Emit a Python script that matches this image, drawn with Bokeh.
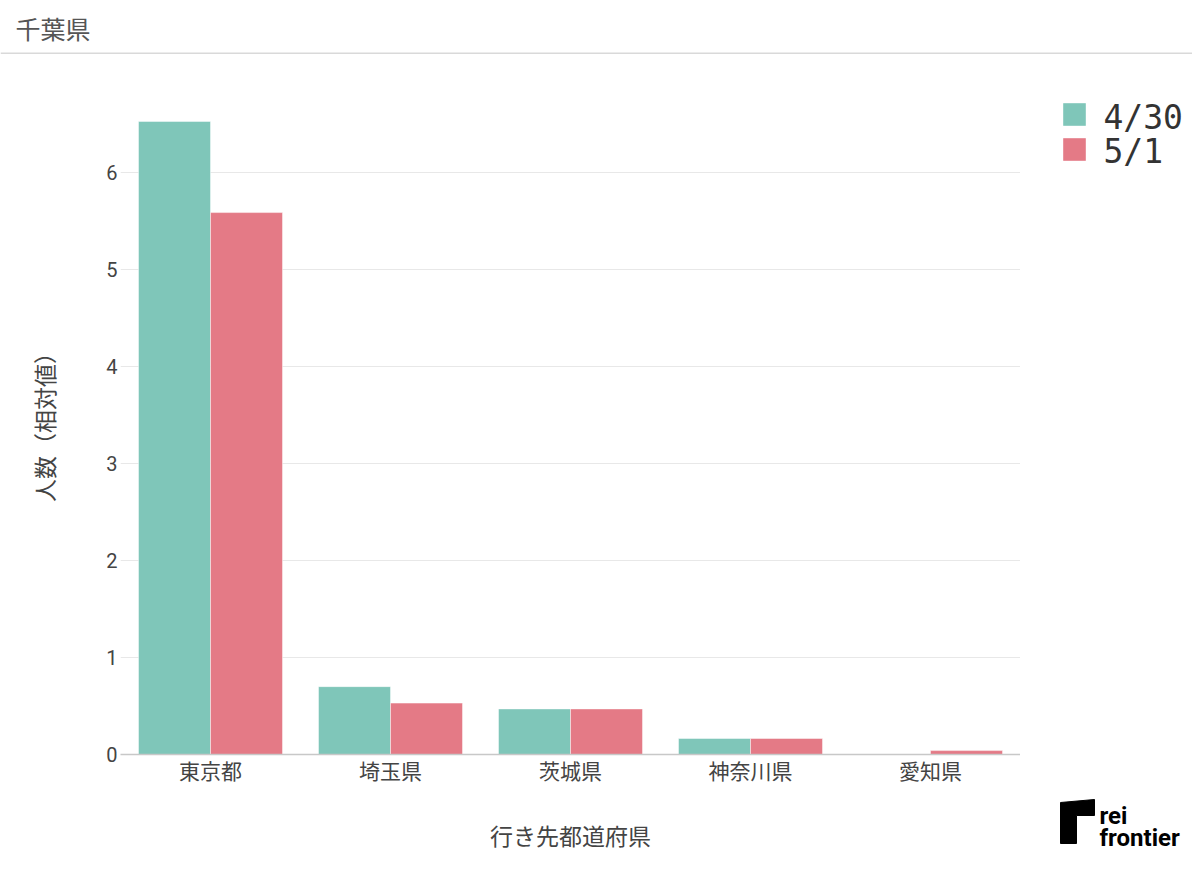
from bokeh.plotting import figure
from bokeh.models import ColumnDataSource, FactorRange, Range1d, FixedTicker
from bokeh.layouts import column, row
from bokeh.transform import dodge
from bokeh.core.properties import value
from bokeh.embed import file_html
from bokeh.resources import INLINE

# ---- data ----
title_text = "千葉県"
categories = ["東京都", "埼玉県", "茨城県", "神奈川県", "愛知県"]
series_names = ["4/30", "5/1"]
values_0430 = [6.53, 0.70, 0.47, 0.165, 0.0]
values_0501 = [5.59, 0.53, 0.47, 0.165, 0.04]
y_ticks = [0, 1, 2, 3, 4, 5, 6]
x_label = "行き先都道府県"
y_label = "人数（相対値）"
colors = ["#7fc6b9", "#e47a86"]

JP = "Noto Sans CJK JP"

# ---- title strip ----
top = figure(width=1192, height=54, x_range=Range1d(0, 1192), y_range=Range1d(54, 0),
             min_border=0, toolbar_location=None, output_backend="svg")
top.axis.visible = False
top.grid.visible = False
top.outline_line_color = None
top.text(x=[15], y=[27], text=[title_text], text_font=value(JP), text_font_size="25px",
         text_color="#555555", text_baseline="middle", text_align="left")
top.line(x=[0, 1192], y=[53, 53], line_color="#d9d9d9", line_width=2)

# ---- main chart ----
src = ColumnDataSource(dict(cat=categories, a=values_0430, b=values_0501))
p = figure(width=1020, height=815, x_range=FactorRange(*categories), y_range=Range1d(0, 6.87),
           min_border_left=120, min_border_right=0, min_border_top=34, min_border_bottom=115,
           toolbar_location=None, output_backend="svg")
p.outline_line_color = None
p.vbar(x=dodge("cat", -0.2, range=p.x_range), top="a", width=0.4, source=src,
       fill_color=colors[0], line_color="white", line_alpha=0.45, line_width=1)
p.vbar(x=dodge("cat", 0.2, range=p.x_range), top="b", width=0.4, source=src,
       fill_color=colors[1], line_color="white", line_alpha=0.45, line_width=1)

p.xgrid.grid_line_color = None
p.ygrid.grid_line_color = "#e8e8e8"
p.ygrid.grid_line_width = 1
p.yaxis.ticker = FixedTicker(ticks=y_ticks)
p.ygrid.ticker = FixedTicker(ticks=y_ticks)

p.yaxis.axis_line_color = None
p.yaxis.major_tick_line_color = None
p.yaxis.major_tick_out = 0
p.yaxis.major_tick_in = 0
p.yaxis.minor_tick_line_color = None
p.yaxis.major_label_standoff = 3
p.yaxis.major_label_text_font = "Roboto"
p.yaxis.major_label_text_font_size = "20px"
p.yaxis.major_label_text_color = "#444444"
p.yaxis.axis_label = y_label
p.yaxis.axis_label_text_font = JP
p.yaxis.axis_label_text_font_size = "23px"
p.yaxis.axis_label_text_font_style = "normal"
p.yaxis.axis_label_text_color = "#444444"
p.yaxis.axis_label_standoff = 42

p.xaxis.axis_line_color = "#c8c8c8"
p.xaxis.axis_line_width = 1.5
p.xaxis.major_tick_line_color = None
p.xaxis.minor_tick_line_color = None
p.xaxis.major_label_standoff = -6
p.xaxis.major_label_text_font = JP
p.xaxis.major_label_text_font_size = "21px"
p.xaxis.major_label_text_color = "#444444"
p.xaxis.axis_label = x_label
p.xaxis.axis_label_text_font = JP
p.xaxis.axis_label_text_font_size = "23px"
p.xaxis.axis_label_text_font_style = "normal"
p.xaxis.axis_label_text_color = "#444444"
p.xaxis.axis_label_standoff = 30

# ---- side panel: legend + logo (coordinates measured from the panel's top-left) ----
side = figure(width=172, height=815, x_range=Range1d(0, 172), y_range=Range1d(815, 0),
              min_border=0, toolbar_location=None, output_backend="svg")
side.frame_align = False
side.axis.visible = False
side.grid.visible = False
side.outline_line_color = None
side.rect(x=[54, 54], y=[60, 95], width=22, height=22, fill_color=colors, line_color=colors,
          line_alpha=0.6)
side.text(x=[83, 83], y=[63, 97], text=series_names, text_font=value("DejaVu Sans Mono"),
          text_font_size="33px", text_color="#333333", text_baseline="middle")
side.patch(x=[40, 74, 74, 56, 56, 40], y=[748, 745, 761, 761, 789, 789], fill_color="black",
           line_color="black")
side.text(x=[79, 79], y=[761, 783], text=["rei", "frontier"], text_font=value("Roboto"),
          text_font_style="bold", text_font_size="24px", text_color="black",
          text_baseline="alphabetic")

layout = column(top, row(p, side, spacing=0), spacing=0)
open("out.html", "w").write(file_html(layout, INLINE))
